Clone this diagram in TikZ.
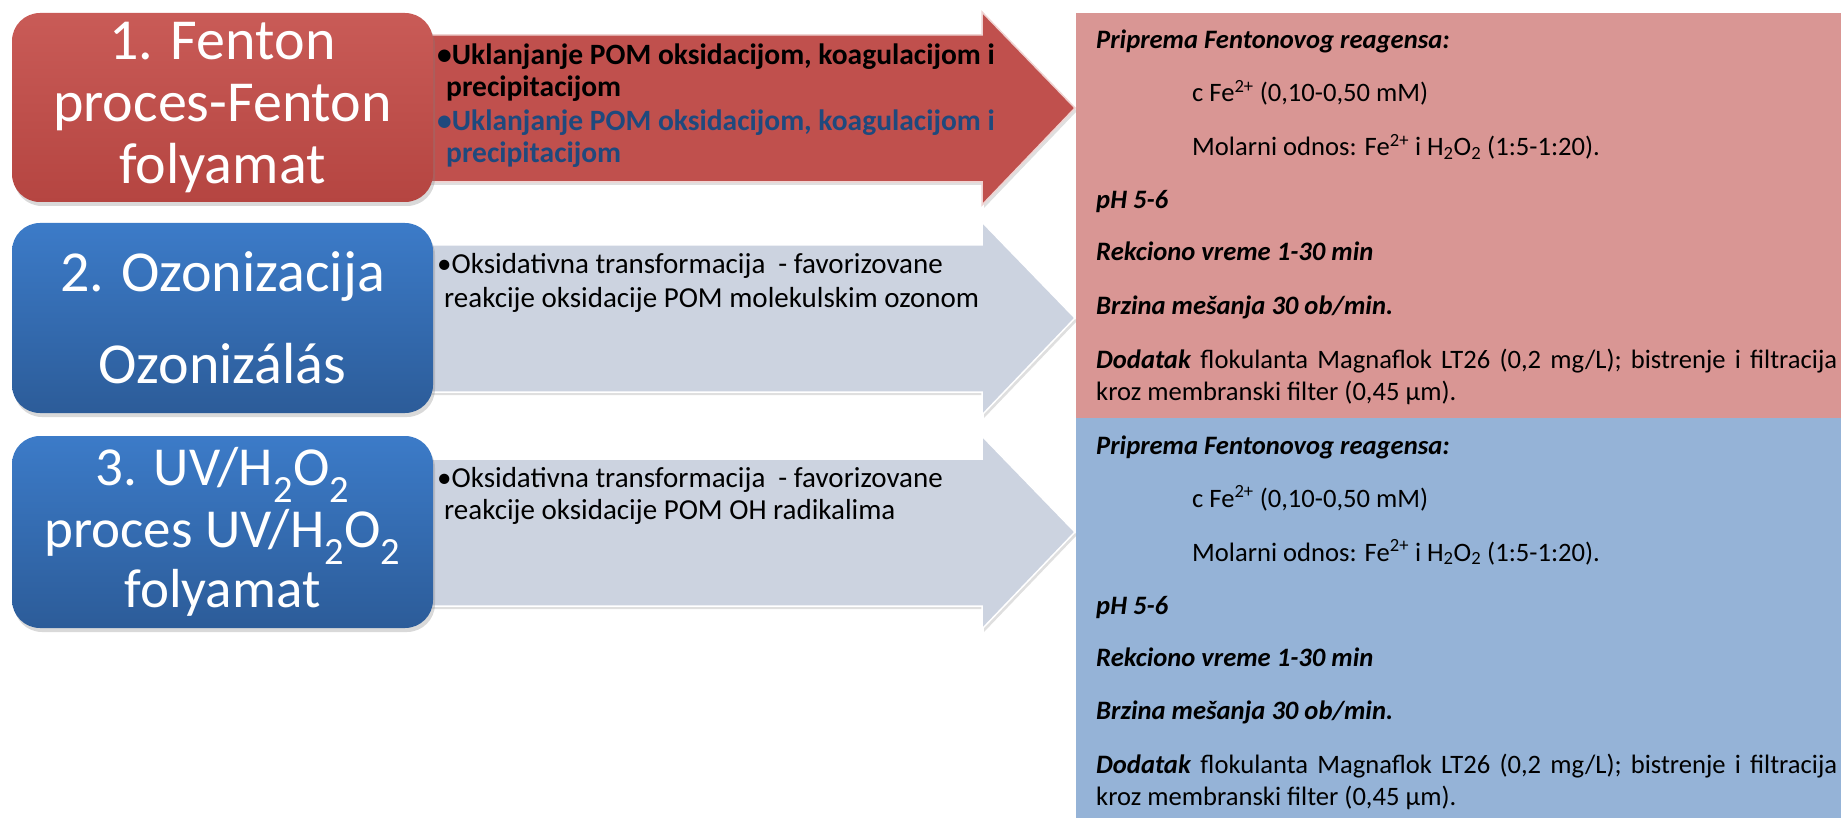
\documentclass[tikz,border=0pt]{standalone}
\usepackage{fontspec}
\setmainfont{Carlito}
\usetikzlibrary{shadows,positioning}

\definecolor{fentonred}{HTML}{C0504D}
\definecolor{fentonredtop}{HTML}{C95B57}
\definecolor{fentonredbot}{HTML}{B54541}
\definecolor{ozoneblue}{HTML}{3C7BC8}
\definecolor{ozonebluebot}{HTML}{2C5C99}
\definecolor{armgrey}{HTML}{CCD3E0}
\definecolor{redpanel}{HTML}{D99694}
\definecolor{bluepanel}{HTML}{95B3D7}
\definecolor{textblue}{HTML}{1F497D}

\tikzset{
  procbox/.style={rounded corners=28pt, minimum width=421pt, inner sep=0pt,
    text=white, align=center, font=\fontsize{58}{62}\selectfont,
    drop shadow={opacity=0.3, shadow xshift=2pt, shadow yshift=-4pt}},
  armtext/.style={anchor=base west, inner sep=0pt, font=\fontsize{29}{32}\selectfont},
  armbold/.style={armtext, font=\fontsize{29.5}{32}\selectfont\bfseries},
  cond/.style={anchor=base west, inner sep=0pt, font=\fontsize{26.6}{32.5}\selectfont},
  condhead/.style={cond, font=\fontsize{26.6}{32.5}\selectfont\bfseries\itshape}
}

% block arrow: centre y, fill colour, rim colour
\newcommand\procarrow[3]{%
  \fill[#2, draw=#3, line width=1.5pt,
        drop shadow={opacity=0.25, shadow xshift=2pt, shadow yshift=-3pt}]
    (400,{#1-73}) -- (982,{#1-73}) -- (982,{#1-96}) -- (1075,#1)
    -- (982,{#1+97}) -- (982,{#1+74}) -- (400,{#1+74}) -- cycle;}

\begin{document}
\begin{tikzpicture}[x=1pt, y=-1pt]
  \useasboundingbox (0,0) rectangle (1841,818);

  % arrows
  \procarrow{108}{fentonred}{white!75!fentonred}
  \procarrow{318}{armgrey}{white}
  \procarrow{532}{armgrey}{white}

  % right panels
  \fill[redpanel]  (1076,13)  rectangle (1841,418);
  \fill[bluepanel] (1076,418) rectangle (1841,818);

  % process boxes
  \node[procbox, minimum height=189pt, top color=fentonredtop, bottom color=fentonredbot]
    (fenton) at (222.5,107.5) {1. Fenton\\proces-Fenton\\folyamat};
  \node[procbox, minimum height=190pt, top color=ozoneblue, bottom color=ozonebluebot]
    (ozone) at (222.5,318) {2. Ozonizacija\\[30pt]Ozonizálás};
  \node[procbox, minimum height=192pt, top color=ozoneblue, bottom color=ozonebluebot,
        font=\fontsize{55}{60}\selectfont]
    (uvh) at (222.5,532) {3. UV/H\textsubscript{2}O\textsubscript{2}\\[2pt]proces UV/H\textsubscript{2}O\textsubscript{2}\\folyamat};

  % arrow texts
  \node[armbold] (a1l1) at (437,65)  {\textbullet Uklanjanje POM oksidacijom, koagulacijom i};
  \node[armbold] (a1l2) at (446,97)  {precipitacijom};
  \node[armbold, text=textblue] (a1l3) at (437,131) {\textbullet Uklanjanje POM oksidacijom, koagulacijom i};
  \node[armbold, text=textblue] (a1l4) at (446,163) {precipitacijom};
  \node[armtext] (a2l1) at (437,274) {\textbullet Oksidativna transformacija\ \ - favorizovane};
  \node[armtext] (a2l2) at (444,307) {reakcije oksidacije POM molekulskim ozonom};
  \node[armtext] (a3l1) at (437,487) {\textbullet Oksidativna transformacija\ \ - favorizovane};
  \node[armtext] (a3l2) at (444,519) {reakcije oksidacije POM OH radikalima};

  % conditions, same in both panels
  \foreach \pan/\dy in {red/0, blue/405} {
    \node[condhead] (prip-\pan) at (1096,{49+\dy})  {Priprema Fentonovog reagensa:};
    \node[cond]     (cfe-\pan)  at (1192,{102+\dy}) {c Fe\textsuperscript{2+} (0,10-0,50 mM)};
    \node[cond]     (mol-\pan)  at (1192,{156+\dy}) {Molarni odnos: Fe\textsuperscript{2+} i H\textsubscript{2}O\textsubscript{2} (1:5-1:20).};
    \node[condhead] (ph-\pan)   at (1096,{209+\dy}) {pH 5-6};
    \node[condhead] (rek-\pan)  at (1096,{261+\dy}) {Rekciono vreme 1-30 min};
    \node[condhead] (brz-\pan)  at (1096,{314+\dy}) {Brzina mešanja 30 ob/min.};
    \node[cond, text width=741pt, align=justify] (dod-\pan) at (1096,{368+\dy})
      {\textbf{\textit{Dodatak}} flokulanta Magnaflok LT26 (0,2 mg/L); bistrenje i filtracija\linebreak kroz membranski filter (0,45 µm).};
  }
\end{tikzpicture}
\end{document}
